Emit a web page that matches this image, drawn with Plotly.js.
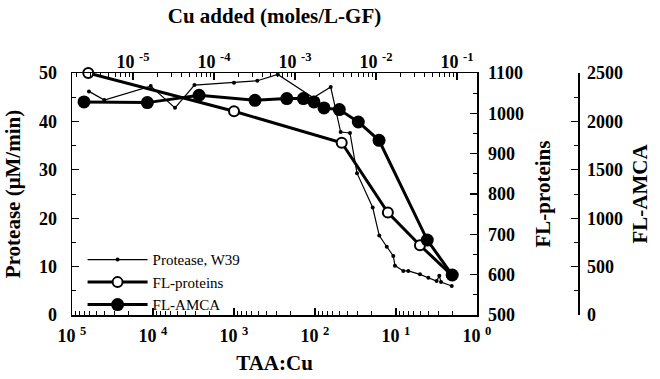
<!DOCTYPE html>
<html>
<head>
<meta charset="utf-8">
<script src="https://cdn.plot.ly/plotly-3.0.1.min.js"></script>
<style>html,body{margin:0;padding:0;background:#fff;}#chart{width:660px;height:379px;}</style>
</head>
<body>
<div id="chart"></div>
<script>
// TAA:Cu ratio (x) and values
const ratioProtease = [61700, 39900, 10670, 5350, 3080, 1000, 515, 288, 105, 64, 48.2, 37.0, 30.3, 19.4, 16.1, 13.0, 10.8, 10.3, 8.13, 7.05, 5.06, 3.99, 3.15, 2.92, 2.78, 2.05];
const protease = [46.2, 44.4, 47.3, 42.8, 47.5, 48.0, 48.4, 49.7, 44.9, 47.1, 37.8, 37.6, 29.3, 22.2, 16.4, 14.1, 12.2, 10.2, 9.1, 9.1, 8.4, 7.7, 7.0, 8.1, 6.8, 6.0];

const ratioFLProteins = [63000, 1000, 46.8, 12.6, 5.06, 2.05];
const flProteins = [1100, 1005, 927, 754, 673, 599];

const ratioAMCA = [71100, 11750, 2700, 551, 223, 139, 103, 77.4, 50.1, 29.2, 16.2, 4.11, 2.02];
const flAMCA = [2201, 2194, 2270, 2218, 2236, 2236, 2201, 2139, 2122, 1994, 1805, 774, 413];

const bottomTickVals = [1e5, 1e4, 1e3, 1e2, 1e1, 1];
const bottomTickText = ['10 <sup>5</sup>', '10 <sup>4</sup>', '10 <sup>3</sup>', '10 <sup>2</sup>', '10 <sup>1</sup>', '10 <sup>0</sup>'];
const topTickVals = [1e-5, 1e-4, 1e-3, 1e-2, 1e-1];
const topTickText = ['10 <sup>-5</sup>', '10 <sup>-4</sup>', '10 <sup>-3</sup>', '10 <sup>-2</sup>', '10 <sup>-1</sup>'];

function minorLog(lo, hi) {
  const out = [];
  for (let k = lo; k <= hi; k++) for (let d = 2; d <= 9; d++) out.push(d * Math.pow(10, k));
  return out;
}

const FONT = 'Liberation Serif, Times New Roman, serif';
const tickFont = {family: FONT, size: 18, color: '#000', weight: 'bold'};
const titleFont = {family: FONT, size: 21, color: '#000', weight: 'bold'};

const traces = [
  {x: ratioProtease, y: protease, name: 'Protease, W39', type: 'scatter', mode: 'lines+markers', cliponaxis: false,
   xaxis: 'x', yaxis: 'y', line: {color: '#000', width: 1.2}, marker: {color: '#000', size: 4}},
  {x: ratioFLProteins, y: flProteins, name: 'FL-proteins', type: 'scatter', mode: 'lines+markers', cliponaxis: false,
   xaxis: 'x', yaxis: 'y2', line: {color: '#000', width: 3}, marker: {color: '#fff', size: 10, line: {color: '#000', width: 2}}},
  {x: ratioAMCA, y: flAMCA, name: 'FL-AMCA', type: 'scatter', mode: 'lines+markers', cliponaxis: false,
   xaxis: 'x', yaxis: 'y3', line: {color: '#000', width: 3}, marker: {color: '#000', size: 13}},
  // carriers so the top axis and minor-tick axes are drawn (no visible marks)
  {x: topTickVals, y: topTickVals.map(() => null), xaxis: 'x2', yaxis: 'y', type: 'scatter', mode: 'markers', showlegend: false, hoverinfo: 'skip'},
  {x: bottomTickVals, y: bottomTickVals.map(() => null), xaxis: 'x3', yaxis: 'y', type: 'scatter', mode: 'markers', showlegend: false, hoverinfo: 'skip'},
  {x: topTickVals, y: topTickVals.map(() => null), xaxis: 'x4', yaxis: 'y', type: 'scatter', mode: 'markers', showlegend: false, hoverinfo: 'skip'}
];

const dom = 405 / 588;
const axisCommon = {showline: true, linecolor: '#000', linewidth: 1.5, ticks: 'inside', tickcolor: '#000', tickwidth: 1.3, ticklen: 7, showgrid: false, zeroline: false, tickfont: tickFont, automargin: false, mirror: false};
const minorAxis = {showline: false, ticks: 'inside', tickcolor: '#000', tickwidth: 1, ticklen: 4, showgrid: false, zeroline: false, showticklabels: false, automargin: false, tickmode: 'array'};

const layout = {
  width: 660, height: 379,
  margin: {l: 72, r: 0, t: 73, b: 64},
  paper_bgcolor: '#fff', plot_bgcolor: '#fff',
  showlegend: true,
  legend: {x: 0.018, y: 0.296, xanchor: 'left', yanchor: 'top', bgcolor: 'rgba(0,0,0,0)', font: {family: FONT, size: 15, color: '#000'}, tracegroupgap: 0, itemwidth: 60},
  xaxis: Object.assign({}, axisCommon, {
    type: 'log', range: [5, 0], domain: [0, dom], anchor: 'y', side: 'bottom',
    tickmode: 'array', tickvals: bottomTickVals, ticktext: bottomTickText, ticklabelstandoff: 4,
    title: {text: 'TAA:Cu', font: titleFont, standoff: 10}
  }),
  xaxis2: Object.assign({}, axisCommon, {
    type: 'log', range: [-5.753, -0.753], domain: [0, dom], anchor: 'y', side: 'top', overlaying: 'x',
    tickmode: 'array', tickvals: topTickVals, ticktext: topTickText, ticklabelstandoff: -4,
    title: {text: 'Cu added (moles/L-GF)', font: titleFont, standoff: 20}
  }),
  xaxis3: Object.assign({}, minorAxis, {
    type: 'log', range: [5, 0], domain: [0, dom], anchor: 'y', side: 'bottom', overlaying: 'x', tickvals: minorLog(0, 4)
  }),
  xaxis4: Object.assign({}, minorAxis, {
    type: 'log', range: [-5.753, -0.753], domain: [0, dom], anchor: 'y', side: 'top', overlaying: 'x', tickvals: minorLog(-6, -1)
  }),
  yaxis: Object.assign({}, axisCommon, {
    range: [0, 50], dtick: 10, tick0: 0, anchor: 'x', side: 'left', ticklabelstandoff: 10,
    minor: {dtick: 5, ticks: 'inside', ticklen: 4, tickcolor: '#000', tickwidth: 1},
    title: {text: 'Protease (μM/min)', font: titleFont, standoff: 12}
  }),
  yaxis2: Object.assign({}, axisCommon, {
    range: [500, 1100], dtick: 100, tick0: 500, anchor: 'x', side: 'right', overlaying: 'y', ticklabelstandoff: 6,
    minor: {dtick: 50, ticks: 'inside', ticklen: 4, tickcolor: '#000', tickwidth: 1},
    title: {text: 'FL-proteins', font: titleFont, standoff: 12}
  }),
  yaxis3: Object.assign({}, axisCommon, {
    range: [0, 2500], dtick: 500, tick0: 0, anchor: 'free', position: 506 / 588, side: 'right', overlaying: 'y', ticklabelstandoff: 4,
    minor: {dtick: 250, ticks: 'inside', ticklen: 4, tickcolor: '#000', tickwidth: 1},
    title: {text: 'FL-AMCA', font: titleFont, standoff: 10}
  })
};

Plotly.newPlot('chart', traces, layout, {staticPlot: true, displayModeBar: false});
</script>
</body>
</html>
